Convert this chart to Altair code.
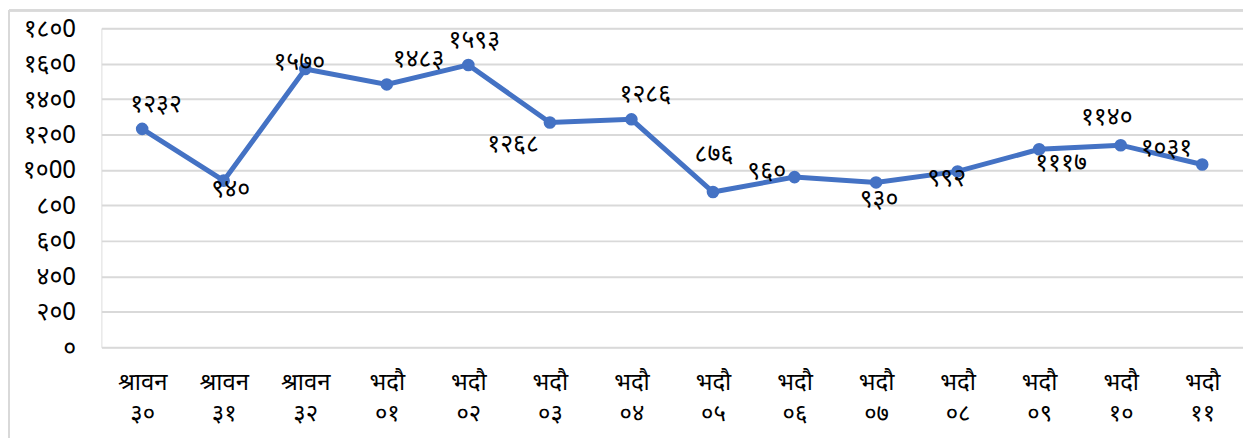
import altair as alt
import pandas as pd

categories = ["श्रावन ३०", "श्रावन ३१", "श्रावन ३२", "भदौ ०१", "भदौ ०२", "भदौ ०३", "भदौ ०४",
              "भदौ ०५", "भदौ ०६", "भदौ ०७", "भदौ ०८", "भदौ ०९", "भदौ १०", "भदौ ११"]
values = [1232, 940, 1570, 1483, 1593, 1268, 1286, 876, 960, 930, 992, 1117, 1140, 1031]
labels = ["१२३२", "९४०", "१५७०", "१४८३", "१५९३", "१२६८", "१२८६", "८७६", "९६०", "९३०",
          "९९२", "१११७", "११४०", "१०३१"]
y_ticks = [0, 200, 400, 600, 800, 1000, 1200, 1400, 1600, 1800]

df = pd.DataFrame({"cat": categories, "value": values, "label": labels,
                   "i": list(range(len(values)))})

FONT = "Mangal, 'Noto Sans Devanagari', 'Lohit Devanagari', 'Nirmala UI', sans-serif"
W, H = 1149, 321
BLUE = "#4472C4"
GRID = "#D9D9D9"
FS = 25

x_enc = alt.X("cat:N", sort=categories, title=None,
              scale=alt.Scale(paddingInner=0, paddingOuter=0),
              axis=alt.Axis(labelAngle=0, labelExpr="split(datum.label, ' ')",
                            labelLineHeight=31, labelFontSize=FS - 1, labelFont=FONT,
                            labelColor="#000000", labelPadding=24, labelBaseline="top",
                            ticks=False, domain=False, grid=False))
y_enc = alt.Y("value:Q", title=None,
              scale=alt.Scale(domain=[0, 1800], nice=False),
              axis=alt.Axis(values=y_ticks, labelExpr="replace(replace(replace(replace(replace(replace(replace(replace(replace(replace(datum.label,'0','०'),'1','१'),'2','२'),'3','३'),'4','४'),'5','५'),'6','६'),'7','७'),'8','८'),'9','९')",
                            format="d", labelFontSize=FS, labelFont=FONT, labelColor="#000000",
                            labelPadding=26, ticks=False, domain=False,
                            gridColor=GRID, gridWidth=2))

base = alt.Chart(df)
line = base.mark_line(color=BLUE, strokeWidth=5).encode(x=x_enc, y=y_enc)
pts = base.mark_point(filled=True, color=BLUE, size=160, opacity=1).encode(x=x_enc, y=y_enc)

offsets = {0: (14, -25), 1: (7, 8), 2: (-6, -7), 3: (32, -26), 4: (6, -25), 5: (-37, 22),
           6: (14, -25), 7: (1, -38), 8: (-28, -6), 9: (3, 17), 10: (-11, 7), 11: (22, 14),
           12: (-14, -28), 13: (-36, -17)}
text_layers = []
for k, (dx, dy) in offsets.items():
    text_layers.append(
        base.transform_filter(alt.datum.i == k)
        .mark_text(dx=dx, dy=dy, fontSize=FS, font=FONT, color="#000000")
        .encode(x=x_enc, y=y_enc, text="label:N")
    )

border_left = base.mark_rule(color=GRID, strokeWidth=2).encode(
    x=alt.value(-93), y=alt.value(-18), y2=alt.value(H + 120))
border_top = base.mark_rule(color=GRID, strokeWidth=2).encode(
    x=alt.value(-93), x2=alt.value(W), y=alt.value(-18))

chart = alt.layer(border_left, border_top, line, pts, *text_layers).properties(
    width=W, height=H,
    autosize=alt.AutoSizeParams(type="none"),
    padding={"left": 94, "top": 19, "right": 0, "bottom": 90},
).configure_view(stroke=None).configure(background="white")

chart.save("out.html", embed_options={"renderer": "svg", "actions": False})
